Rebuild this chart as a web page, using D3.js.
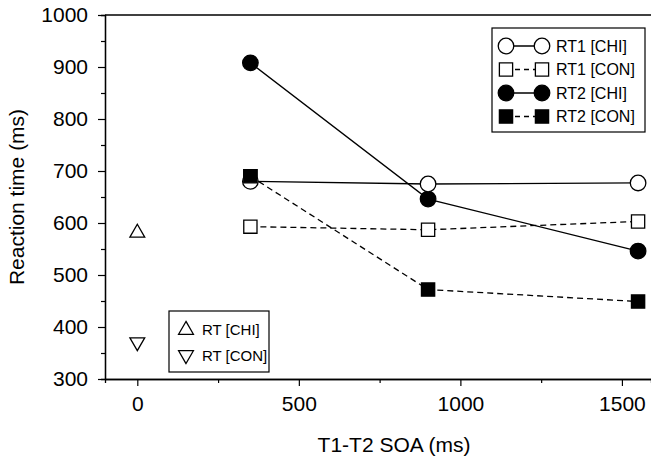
<!DOCTYPE html>
<html>
<head>
<meta charset="utf-8">
<script src="https://cdn.jsdelivr.net/npm/d3@7"></script>
<style>
  body { margin: 0; background: #fff; }
  svg text { font-family: "Liberation Sans", Arial, sans-serif; fill: #000; }
</style>
</head>
<body>
<div id="chart"></div>
<script>
// data
var soa = [350, 900, 1550];
var rt1Chi = [680, 675, 677];
var rt1Con = [593, 587, 603];
var rt2Chi = [908, 646, 546];
var rt2Con = [690, 472, 449];
var singleSoa = [0];
var rtChi = [583];
var rtCon = [369];
var xTicks = [0, 500, 1000, 1500];
var yTicks = [300, 400, 500, 600, 700, 800, 900, 1000];

var width = 651, height = 461;
var margin = {left: 105, top: 15, right: 0, bottom: 82};

var x = d3.scaleLinear().domain([-100, 1590]).range([margin.left, width - margin.right]);
var y = d3.scaleLinear().domain([300, 1000]).range([height - margin.bottom, margin.top]);

var svg = d3.select("#chart").append("svg")
  .attr("width", width).attr("height", height);

// frame top line
svg.append("line")
  .attr("x1", x.range()[0]).attr("x2", x.range()[1])
  .attr("y1", y(1000)).attr("y2", y(1000))
  .attr("stroke", "#000").attr("stroke-width", 1.3);

// minor ticks
var xMinor = svg.append("g")
  .attr("transform", "translate(0," + y(300) + ")")
  .call(d3.axisBottom(x).tickValues([250, 750, 1250]).tickSize(4).tickFormat(""));
var yMinor = svg.append("g")
  .attr("transform", "translate(" + x(-100) + ",0)")
  .call(d3.axisLeft(y).tickValues(d3.range(350, 1000, 100)).tickSize(4).tickFormat(""));

var xAxis = svg.append("g")
  .attr("transform", "translate(0," + y(300) + ")")
  .call(d3.axisBottom(x).tickValues(xTicks).tickFormat(d3.format("d"))
    .tickSize(7).tickPadding(10).tickSizeOuter(0));
var yAxis = svg.append("g")
  .attr("transform", "translate(" + x(-100) + ",0)")
  .call(d3.axisLeft(y).tickValues(yTicks).tickFormat(d3.format("d"))
    .tickSize(7).tickPadding(10).tickSizeOuter(0));

[xMinor, yMinor, xAxis, yAxis].forEach(function(a) {
  a.select(".domain").attr("stroke", "#000").attr("stroke-width", 1.3);
  a.selectAll(".tick line").attr("stroke", "#000").attr("stroke-width", 1.2);
  a.selectAll(".tick text").style("font-size", "21px")
    .style("font-family", "Liberation Sans, Arial, sans-serif");
});

svg.append("text")
  .attr("transform", "translate(24," + ((y(300) + y(1000)) / 2) + ") rotate(-90)")
  .attr("text-anchor", "middle")
  .style("font-size", "21px")
  .text("Reaction time (ms)");

svg.append("text")
  .attr("x", 394)
  .attr("y", 452)
  .attr("text-anchor", "middle")
  .style("font-size", "21px")
  .text("T1-T2 SOA (ms)");

var series = [
  {name: "RT1 [CHI]", vals: rt1Chi, dash: null, shape: "circle", fill: "#fff"},
  {name: "RT1 [CON]", vals: rt1Con, dash: "6,4", shape: "square", fill: "#fff"},
  {name: "RT2 [CHI]", vals: rt2Chi, dash: null, shape: "circle", fill: "#000"},
  {name: "RT2 [CON]", vals: rt2Con, dash: "6,4", shape: "square", fill: "#000"}
];

var line = d3.line().x(function(d) { return x(d[0]); }).y(function(d) { return y(d[1]); });

function symbolPath(shape) {
  if (shape === "circle") return d3.symbol().type(d3.symbolCircle).size(190)();
  if (shape === "square") return d3.symbol().type(d3.symbolSquare).size(175)();
  return d3.symbol().type(d3.symbolTriangle).size(95)();
}

function drawMarker(g, shape, fill, cx, cy) {
  var p = g.append("path")
    .attr("d", symbolPath(shape))
    .attr("fill", fill)
    .attr("stroke", "#000")
    .attr("stroke-width", 1.3);
  if (shape === "down") p.attr("transform", "translate(" + cx + "," + cy + ") rotate(180)");
  else p.attr("transform", "translate(" + cx + "," + cy + ")");
  return p;
}

// lines
series.forEach(function(s) {
  svg.append("path")
    .datum(soa.map(function(v, i) { return [v, s.vals[i]]; }))
    .attr("d", line)
    .attr("fill", "none")
    .attr("stroke", "#000")
    .attr("stroke-width", 1.3)
    .attr("stroke-dasharray", s.dash);
});

// markers
var order = [2, 3, 0, 1];
order.forEach(function(k) {
  var s = series[k];
  soa.forEach(function(v, i) {
    drawMarker(svg, s.shape, s.fill, x(v), y(s.vals[i]));
  });
});
// filled square at first SOA sits on top of the open circle
drawMarker(svg, "square", "#000", x(soa[0]), y(rt2Con[0]));

// single-task points
drawMarker(svg, "up", "#fff", x(singleSoa[0]), y(rtChi[0]) + 1);
drawMarker(svg, "down", "#fff", x(singleSoa[0]), y(rtCon[0]) - 1);

// legend top right
var leg = svg.append("g");
leg.append("rect")
  .attr("x", 492).attr("y", 28).attr("width", 153).attr("height", 104)
  .attr("fill", "#fff").attr("stroke", "#000").attr("stroke-width", 1.2);
series.forEach(function(s, i) {
  var ly = 46 + i * 23.5;
  leg.append("line")
    .attr("x1", 506).attr("x2", 542).attr("y1", ly).attr("y2", ly)
    .attr("stroke", "#000").attr("stroke-width", 1.3)
    .attr("stroke-dasharray", s.dash ? "5,4" : null);
  drawMarker(leg, s.shape, s.fill, 506, ly);
  drawMarker(leg, s.shape, s.fill, 542, ly);
  leg.append("text")
    .attr("x", 556).attr("y", ly + 5.5)
    .style("font-size", "16px")
    .text(s.name);
});

// legend bottom left
var leg2 = svg.append("g");
leg2.append("rect")
  .attr("x", 169).attr("y", 311).attr("width", 100).attr("height", 61)
  .attr("fill", "#fff").attr("stroke", "#000").attr("stroke-width", 1.2);
[{name: "RT [CHI]", shape: "up"}, {name: "RT [CON]", shape: "down"}].forEach(function(s, i) {
  var ly = 329 + i * 26;
  drawMarker(leg2, s.shape, "#fff", 186, ly + (s.shape === "up" ? 1 : 0));
  leg2.append("text")
    .attr("x", 202).attr("y", ly + 5.5)
    .style("font-size", "15px")
    .text(s.name);
});
</script>
</body>
</html>
